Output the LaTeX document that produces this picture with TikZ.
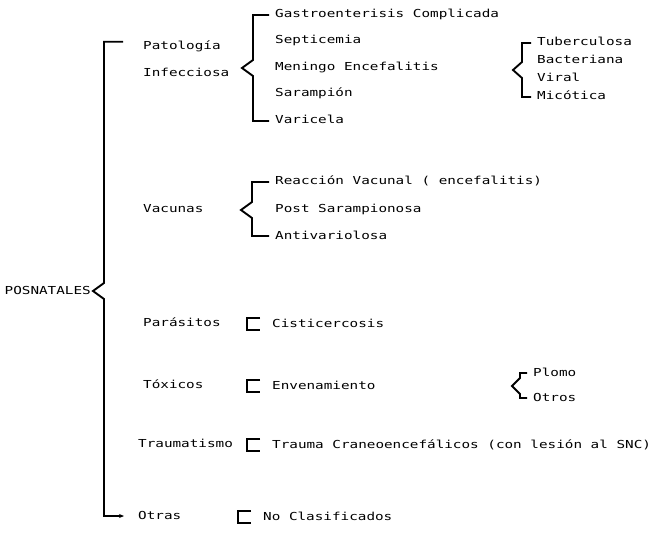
\documentclass[tikz,border=0pt]{standalone}
\usepackage{fontspec}
\setmainfont[FakeStretch=1.3]{DejaVu Sans Mono}
\usetikzlibrary{arrows.meta}

\tikzset{
  texto/.style={anchor=west, inner sep=0pt, text height=8pt, text depth=2pt,
    font=\fontsize{11}{13}\selectfont},
  llave/.style={line width=1.9pt, line join=miter},
  corch/.style={line width=2.2pt},
}
% llave: nodo de arriba, nodo de abajo, x vertical, y de la punta, x de la punta
\newcommand{\trazallave}[5]{%
  \draw[llave] ([xshift=-6pt]#1.west) -- (#1.west -| #3,0) -- (#3,#4-8)
    -- (#5,#4) -- (#3,#4+8) -- (#2.west -| #3,0) -- ([xshift=-6pt]#2.west);}
% corchete delante de un solo elemento
\newcommand{\corchete}[1]{%
  \draw[corch] ([xshift=-12pt,yshift=6pt]#1.west) -- ([xshift=-25pt,yshift=6pt]#1.west)
    -- ([xshift=-25pt,yshift=-6pt]#1.west) -- ([xshift=-12pt,yshift=-6pt]#1.west);}

\begin{document}
\begin{tikzpicture}[x=1pt,y=-1pt]
  \useasboundingbox (0,0) rectangle (657,535);

  % Raiz
  \node[texto, anchor=east] (posn) at (91,291) {POSNATALES};

  % Primer nivel
  \node[texto] (pat) at (143,47) {Patología};
  \node[texto] (inf) at (143,74) {Infecciosa};
  \node[texto] (vac) at (143,209) {Vacunas};
  \node[texto] (par) at (143,323) {Parásitos};
  \node[texto] (tox) at (143,385) {Tóxicos};
  \node[texto] (trm) at (138,444) {Traumatismo};
  \node[texto] (otras) at (138,516) {Otras};

  % Patologia infecciosa
  \foreach \n/\y/\t in {gas/15/Gastroenterisis Complicada, sep/41/Septicemia,
      men/68/Meningo Encefalitis, sar/94/Sarampión, var/121/Varicela}
    \node[texto] (\n) at (275,\y) {\t};
  \foreach \n/\y/\t in {tub/43/Tuberculosa, bac/61/Bacteriana,
      vir/79/Viral, mic/97/Micótica}
    \node[texto] (\n) at (537,\y) {\t};

  % Vacunas
  \foreach \n/\y/\t in {rea/182/Reacción Vacunal ( encefalitis),
      pst/209/Post Sarampionosa, ant/236/Antivariolosa}
    \node[texto] (\n) at (275,\y) {\t};

  % Demas ramas
  \node[texto] (cis) at (272,324) {Cisticercosis};
  \node[texto] (env) at (272,386) {Envenamiento};
  \node[texto] (plo) at (533,373) {Plomo};
  \node[texto] (otr) at (533,398) {Otros};
  \node[texto] (tra) at (272,445) {Trauma Craneoencefálicos (con lesión al SNC)};
  \node[texto] (noc) at (263,517) {No Clasificados};

  % Llave principal
  \draw[llave, -{Stealth[length=5pt,width=4pt]}] ([xshift=-20pt]pat.north west)
    -- (pat.north west -| 104,0) -- (104,283) -- ([xshift=2pt]posn.east)
    -- (104,299) -- (otras.west -| 104,0) -- ([xshift=-14pt]otras.west);

  % Llaves secundarias
  \trazallave{gas}{var}{253}{68}{242}
  \trazallave{tub}{mic}{522}{70}{513}
  \trazallave{rea}{ant}{252}{210}{241}
  \trazallave{plo}{otr}{520}{386}{512}

  \corchete{cis}
  \corchete{env}
  \corchete{tra}
  \corchete{noc}
\end{tikzpicture}
\end{document}
